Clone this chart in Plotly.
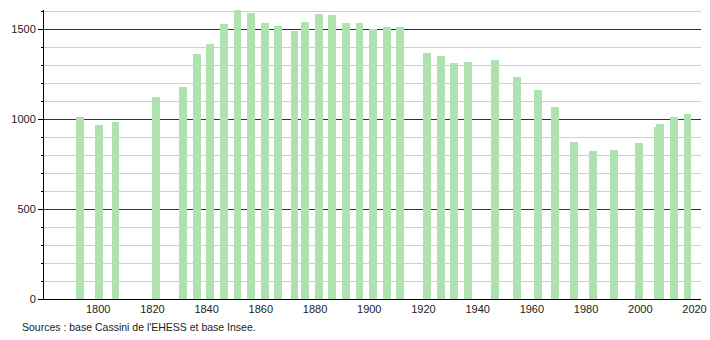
import plotly.graph_objects as go

years = [1793, 1800, 1806, 1821, 1831, 1836, 1841, 1846, 1851, 1856, 1861, 1866,
         1872, 1876, 1881, 1886, 1891, 1896, 1901, 1906, 1911, 1921, 1926, 1931,
         1936, 1946, 1954, 1962, 1968, 1975, 1982, 1990, 1999, 2006, 2007, 2012, 2017]
population = [1011, 967, 983, 1122, 1176, 1361, 1418, 1528, 1607, 1589, 1533, 1517,
              1489, 1539, 1583, 1578, 1533, 1533, 1500, 1511, 1511, 1368, 1352, 1313,
              1317, 1328, 1233, 1161, 1067, 872, 822, 828, 867, 956, 972, 1011, 1028]
x_ticks = [1800, 1820, 1840, 1860, 1880, 1900, 1920, 1940, 1960, 1980, 2000, 2020]
y_ticks = [0, 500, 1000, 1500]
source = "Sources : base Cassini de l'EHESS et base Insee."

fig = go.Figure()
fig.add_trace(go.Bar(
    x=years, y=population,
    width=2.9, offset=-1.05,
    marker=dict(color="#b0e2b0", line=dict(width=0)),
    hoverinfo="x+y",
))

font = dict(family="Liberation Sans, Arial, sans-serif", size=11, color="#222")

fig.update_layout(
    width=710, height=340,
    margin=dict(l=44, r=9, t=10, b=41, autoexpand=False),
    paper_bgcolor="white", plot_bgcolor="white",
    showlegend=False,
    font=font,
    bargap=0,
    xaxis=dict(
        range=[1780, 2022.4], automargin=False,
        tickmode="array", tickvals=x_ticks,
        ticks="", showgrid=False, zeroline=False,
        showline=True, linecolor="#000", linewidth=1,
        tickfont=font, ticklabelstandoff=0,
    ),
    yaxis=dict(
        range=[0, 1606], automargin=False,
        tickmode="array", tickvals=y_ticks,
        ticks="outside", ticklen=5, tickcolor="#000", tickwidth=1,
        showgrid=True, gridcolor="#333", gridwidth=1,
        zeroline=False,
        showline=True, linecolor="#000", linewidth=1,
        tickfont=font,
        minor=dict(dtick=100, tick0=0, showgrid=True, gridcolor="#cfcfcf",
                   gridwidth=1, ticks="outside", ticklen=2, tickcolor="#000"),
    ),
    annotations=[dict(
        text=source, xref="paper", yref="paper",
        x=-0.0365, y=-0.097, xanchor="left", yanchor="middle",
        showarrow=False, font=dict(family="Liberation Sans, Arial, sans-serif", size=10.5, color="#222"),
    )],
)

fig.write_html("out.html")
